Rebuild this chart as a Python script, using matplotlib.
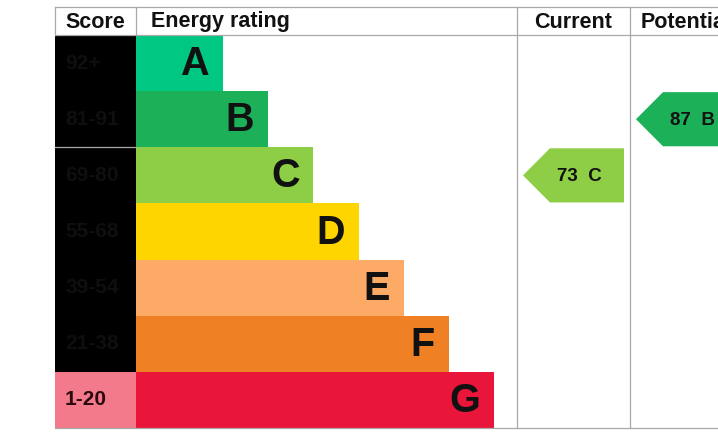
import matplotlib
matplotlib.use("Agg")
import matplotlib.pyplot as plt
from matplotlib.patches import Polygon

plt.rcParams['font.family'] = ['Liberation Sans', 'DejaVu Sans']

# ratings data
bands = ['A', 'B', 'C', 'D', 'E', 'F', 'G']
score_ranges = ['92+', '81-91', '69-80', '55-68', '39-54', '21-38', '1-20']
band_min = [92, 81, 69, 55, 39, 21, 1]
current_score = 73
potential_score = 87

band_colors = ['#00c781', '#1cb159', '#8dce46', '#ffd500', '#fcaa65', '#ef8023', '#e9153b']
score_cell_colors = ['#000000'] * 6 + ['#f27a8a']
score_text_colors = ['#0f0f0f'] * 6 + ['#2a0a10']


def band_of(score):
    for i, lo in enumerate(band_min):
        if score >= lo:
            return i
    return len(band_min) - 1


# layout (pixel units)
W, H = 718, 438
left, top, bottom = 55, 7, 428
head_h = 28
col_score = 136
col_cur = 517
col_pot = 630
col_end = 743
row_top0 = top + head_h
row_h = (bottom - row_top0) / len(bands)
bar_w0, bar_step = 87, 45.2
grid = '#a8a8a8'

fig = plt.figure(figsize=(W / 100, H / 100), dpi=100)
ax = fig.add_axes([0, 0, 1, 1])
ax.set_xlim(0, W)
ax.set_ylim(H, 0)
ax.axis('off')

ys = [row_top0 + i * row_h for i in range(len(bands))]

# score column cells
ax.barh(ys, [col_score - left] * len(bands), left=left, height=row_h,
        align='edge', color=score_cell_colors, linewidth=0)
# rating bars
widths = [bar_w0 + bar_step * i for i in range(len(bands))]
ax.barh(ys, widths, left=col_score, height=row_h, align='edge',
        color=band_colors, linewidth=0)

for i, (y, w) in enumerate(zip(ys, widths)):
    ax.text(left + 10, y + row_h / 2, score_ranges[i], ha='left', va='center',
            fontsize=15, fontweight='bold', color=score_text_colors[i])
    ax.text(col_score + w - 14, y + row_h / 2 + 1, bands[i], ha='right', va='center',
            fontsize=28.5, fontweight='bold', color='#111111')

# grid lines
ax.plot([left, W], [top, top], color=grid, lw=0.9)
ax.plot([left, W], [row_top0, row_top0], color=grid, lw=0.9)
ax.plot([left, col_score], [ys[2], ys[2]], color=grid, lw=0.9)
ax.plot([left, W], [bottom, bottom], color=grid, lw=0.9)
ax.plot([left, left], [top, row_top0], color=grid, lw=0.9)
ax.plot([col_score, col_score], [top, row_top0], color=grid, lw=0.9)
for x in (col_cur, col_pot):
    ax.plot([x, x], [top, bottom], color=grid, lw=0.9)

# headers
hy = top + head_h / 2 + 1
ax.text((left + col_score) / 2, hy, 'Score', ha='center', va='center',
        fontsize=15.5, fontweight='bold', color='#111111')
ax.text(col_score + 15, hy, 'Energy rating', ha='left', va='center',
        fontsize=15.5, fontweight='bold', color='#111111')
ax.text((col_cur + col_pot) / 2, hy, 'Current', ha='center', va='center',
        fontsize=15.5, fontweight='bold', color='#111111')
ax.text((col_pot + col_end) / 2, hy, 'Potential', ha='center', va='center',
        fontsize=15.5, fontweight='bold', color='#111111')


def arrow(col_left, col_right, score):
    b = band_of(score)
    y0 = ys[b] + 1
    y1 = ys[b] + row_h - 1
    tip = col_left + 6
    corner = tip + 27
    right = col_right - 6
    poly = Polygon([(tip, (y0 + y1) / 2), (corner, y0), (right, y0),
                    (right, y1), (corner, y1)], closed=True,
                   facecolor=band_colors[b], edgecolor='none')
    ax.add_patch(poly)
    ax.text(corner + 7, (y0 + y1) / 2 + 1, f'{score}  {bands[b]}', ha='left',
            va='center', fontsize=13.5, fontweight='bold', color='#111111')


arrow(col_cur, col_cur + 113, current_score)
arrow(col_pot, col_end + 20, potential_score)

fig.savefig('out.png', dpi=100)
